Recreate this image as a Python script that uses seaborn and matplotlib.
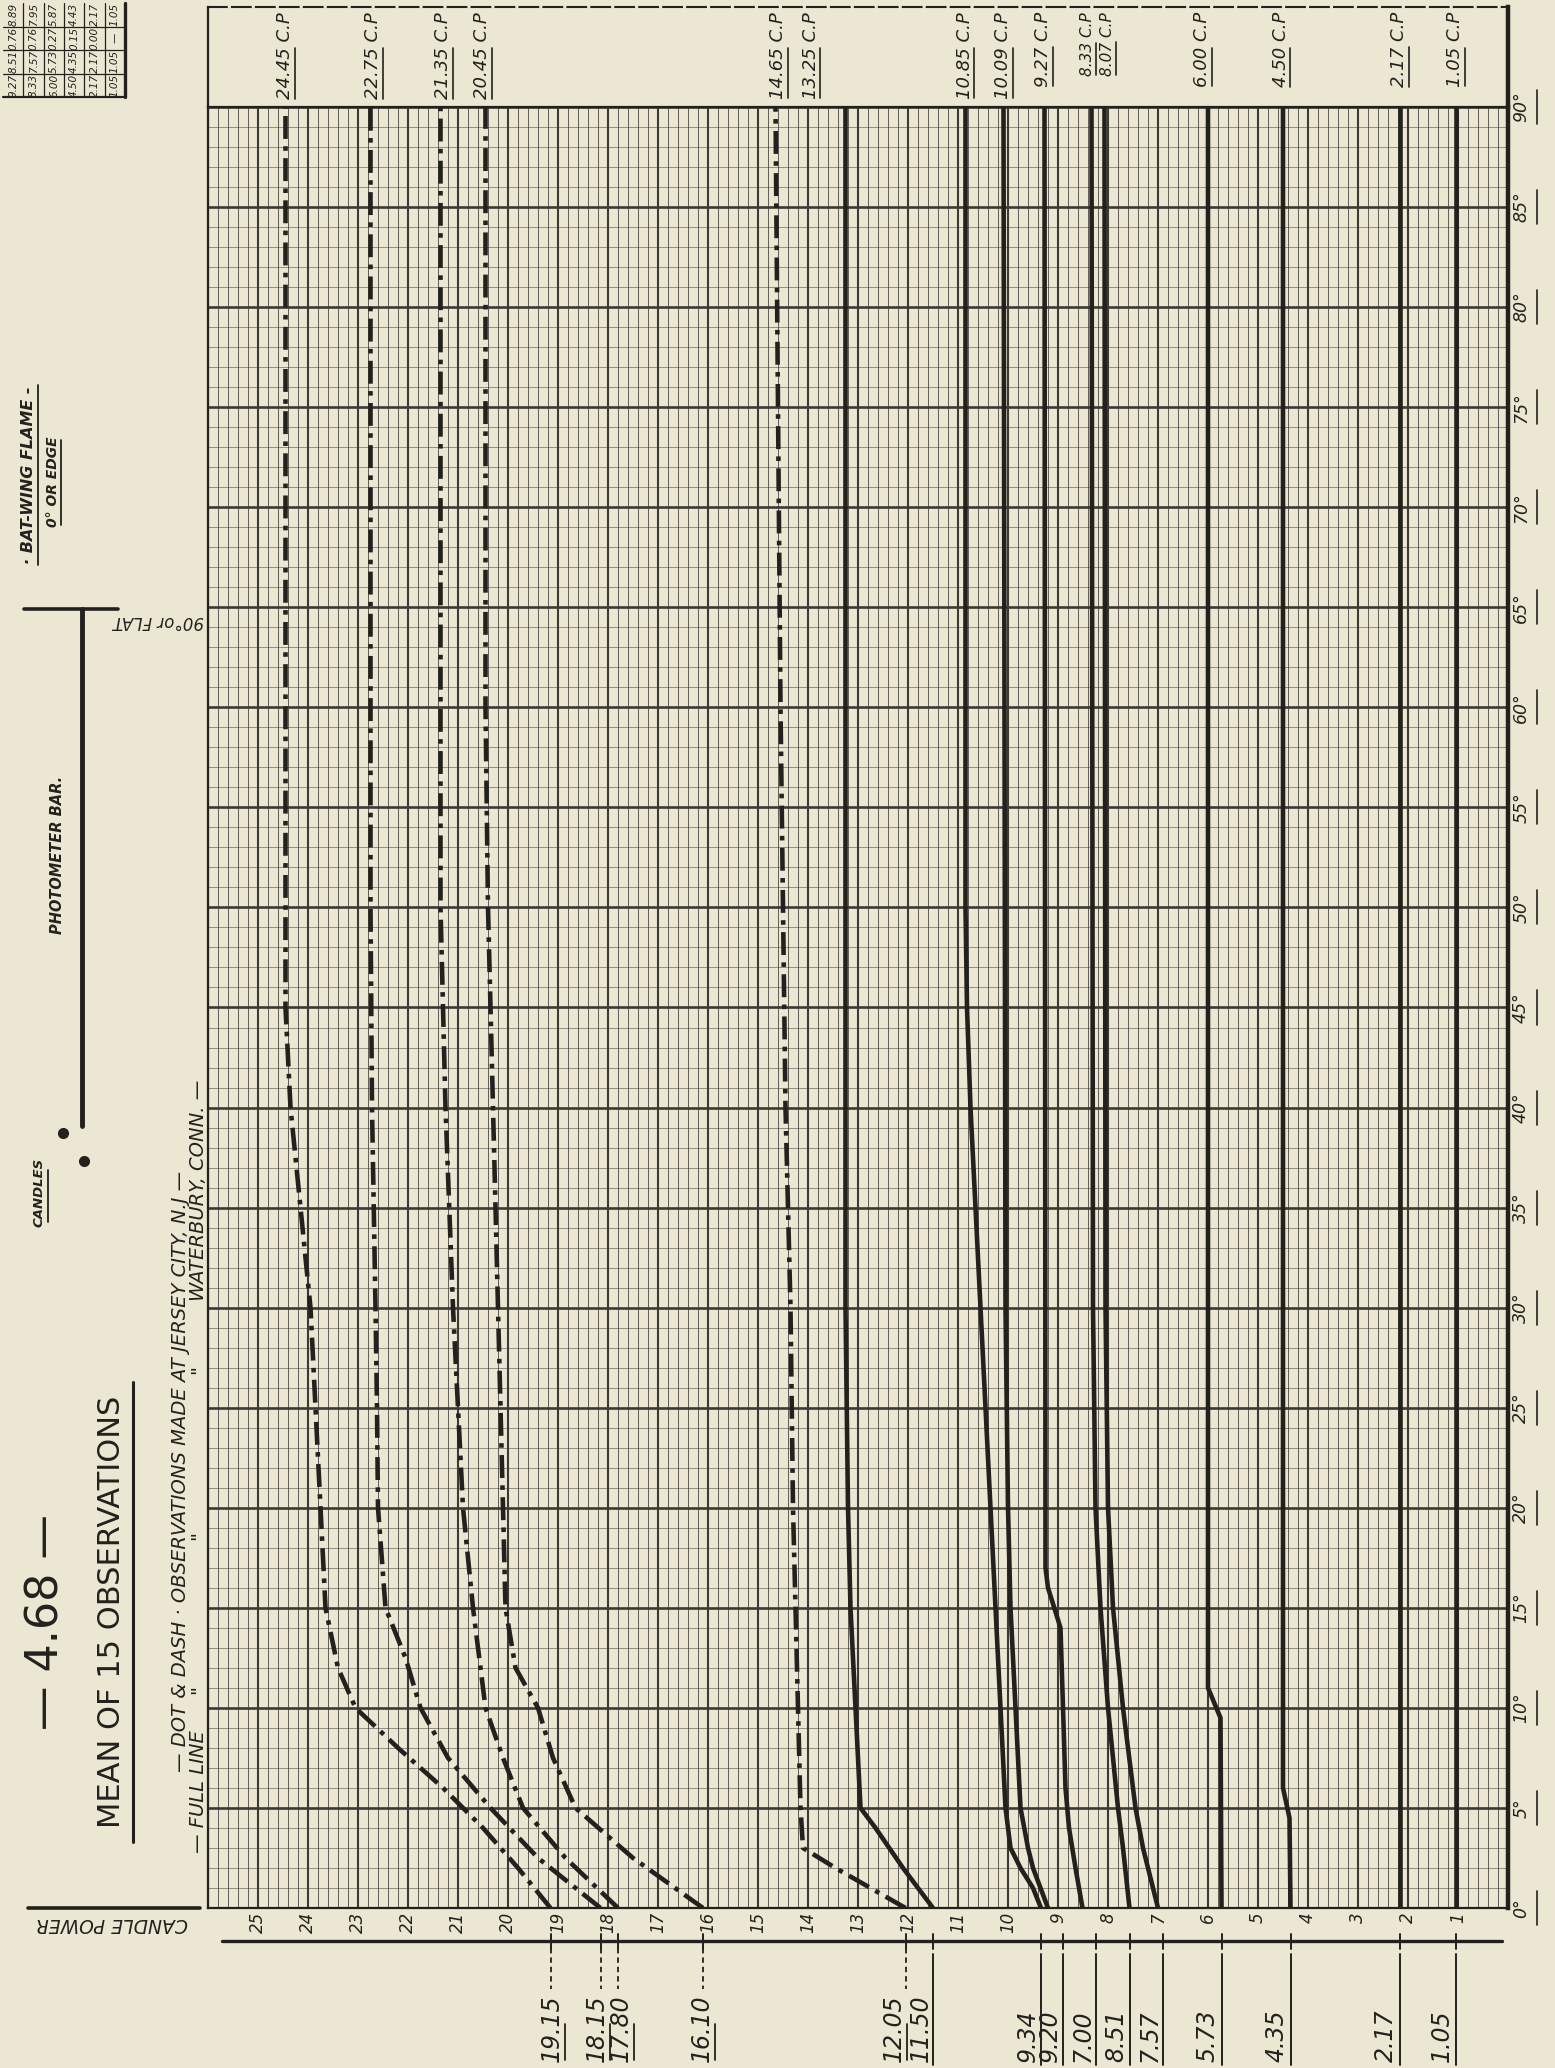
import numpy as np
import pandas as pd
import matplotlib
matplotlib.use("Agg")
import matplotlib.pyplot as plt
from matplotlib.lines import Line2D
from matplotlib.textpath import TextPath
from matplotlib.font_manager import FontProperties
import seaborn as sns

# ---------------------------------------------------------------------------
# Candle power of a bat-wing gas flame against the angle from its edge (deg).
# Jersey City observations are drawn dot & dash, Waterbury ones as full lines.
# ---------------------------------------------------------------------------
jc1_angle = [0, 2, 4, 6, 8, 10, 12, 15, 20, 25, 30, 35, 40, 45, 90]
jc1_cp = [19.15, 19.8, 20.5, 21.3, 22.2, 23.05, 23.4, 23.65, 23.75, 23.85, 23.95, 24.15, 24.35, 24.45, 24.45]
jc2_angle = [0, 2.5, 5, 7.5, 10, 12.5, 15, 20, 25, 30, 40, 50, 90]
jc2_cp = [18.15, 19.4, 20.35, 21.2, 21.75, 22.05, 22.45, 22.6, 22.62, 22.65, 22.72, 22.75, 22.75]
jc3_angle = [0, 2.5, 5, 7.5, 10, 15, 20, 30, 40, 50, 90]
jc3_cp = [17.80, 18.85, 19.7, 20.1, 20.45, 20.7, 20.9, 21.1, 21.25, 21.35, 21.35]
jc4_angle = [0, 2.5, 5, 7.5, 10, 12, 15, 20, 30, 40, 50, 60, 90]
jc4_cp = [16.10, 17.5, 18.65, 19.1, 19.4, 19.85, 20.05, 20.1, 20.2, 20.3, 20.4, 20.45, 20.45]
jc5_angle = [0, 1, 2, 3, 5, 10, 20, 30, 40, 60, 90]
jc5_cp = [12.05, 12.75, 13.45, 14.1, 14.15, 14.2, 14.3, 14.35, 14.45, 14.55, 14.65]

wb1_angle = [0, 2, 4, 5, 10, 15, 20, 30, 90]
wb1_cp = [11.50, 12.1, 12.65, 12.95, 13.05, 13.15, 13.2, 13.25, 13.25]
wb2_angle = [0, 1, 2, 3, 5, 10, 15, 20, 25, 30, 35, 40, 45, 50, 90]
wb2_cp = [9.34, 9.5, 9.75, 9.95, 10.05, 10.15, 10.25, 10.35, 10.45, 10.55, 10.65, 10.75, 10.82, 10.85, 10.85]
wb3_angle = [0, 1, 2, 3, 5, 10, 15, 20, 30, 90]
wb3_cp = [9.20, 9.35, 9.5, 9.6, 9.75, 9.85, 9.95, 10.0, 10.05, 10.09]
wb4_angle = [0, 2, 4, 6, 10, 14, 16, 17, 90]
wb4_cp = [8.51, 8.65, 8.78, 8.85, 8.9, 8.95, 9.2, 9.25, 9.27]
wb5_angle = [0, 3, 5, 10, 15, 20, 30, 90]
wb5_cp = [7.57, 7.7, 7.8, 8.0, 8.15, 8.25, 8.3, 8.33]
wb6_angle = [0, 3, 5, 10, 15, 20, 30, 90]
wb6_cp = [7.00, 7.3, 7.45, 7.7, 7.9, 8.0, 8.05, 8.07]
wb7_angle = [0, 9.5, 11, 90]
wb7_cp = [5.73, 5.75, 6.00, 6.00]
wb8_angle = [0, 4.5, 6, 90]
wb8_cp = [4.35, 4.37, 4.50, 4.50]
wb9_angle = [0, 90]
wb9_cp = [2.17, 2.17]
wb10_angle = [0, 90]
wb10_cp = [1.05, 1.05]

# summary table: 90 deg value, 0 deg value, difference, mean
tbl_max = ["9.27", "8.33", "6.00", "4.50", "2.17", "1.05"]
tbl_min = ["8.51", "7.57", "5.73", "4.35", "2.17", "1.05"]
tbl_diff = ["0.76", "0.76", "0.27", "0.15", "0.00", "—"]
tbl_mean = ["8.89", "7.95", "5.87", "4.43", "2.17", "1.05"]

cp_ticks = list(range(1, 26))
angle_ticks = list(range(0, 91, 5))

# where the end-value notes sit along the candle-power scale
top_note_at = [24.45, 22.70, 21.30, 20.52, 14.60, 13.95, 10.87, 10.10, 9.30, 8.40, 8.00, 6.12, 4.55, 2.18, 1.05]
bottom_lead_at = [19.15, 18.15, 17.80, 16.10, 12.05, 11.50, 9.34, 8.90, 7.57, 6.90, 8.25, 5.73, 4.35, 2.17, 1.05]
bottom_note_at = [19.12, 18.22, 17.74, 16.12, 12.28, 11.74, 9.60, 9.16, 7.83, 7.16, 8.51, 6.00, 4.62, 2.44, 1.32]

JC, WB = "Jersey City", "Waterbury"
curves = [
    ("jc1", JC, jc1_angle, jc1_cp), ("jc2", JC, jc2_angle, jc2_cp),
    ("jc3", JC, jc3_angle, jc3_cp), ("jc4", JC, jc4_angle, jc4_cp),
    ("jc5", JC, jc5_angle, jc5_cp),
    ("wb1", WB, wb1_angle, wb1_cp), ("wb2", WB, wb2_angle, wb2_cp),
    ("wb3", WB, wb3_angle, wb3_cp), ("wb4", WB, wb4_angle, wb4_cp),
    ("wb5", WB, wb5_angle, wb5_cp), ("wb6", WB, wb6_angle, wb6_cp),
    ("wb7", WB, wb7_angle, wb7_cp), ("wb8", WB, wb8_angle, wb8_cp),
    ("wb9", WB, wb9_angle, wb9_cp), ("wb10", WB, wb10_angle, wb10_cp),
]
rows = []
for name, site, angs, cps in curves:
    for a, c in zip(angs, cps):
        rows.append((name, site, a, c))
df = pd.DataFrame(rows, columns=["curve", "site", "angle", "cp"])

# ---------------------------------------------------------------------------
W, H = 1555, 2068
PAPER = "#ebe7d3"
INK = "#22211d"
GRID = "#3b3a35"

sns.set_theme(style="white", rc={"axes.facecolor": PAPER, "figure.facecolor": PAPER})
plt.rcParams["font.family"] = ["DejaVu Sans"]

fig = plt.figure(figsize=(W / 100, H / 100), dpi=100)
fig.patch.set_facecolor(PAPER)

GX0, GX1 = 208, 1508      # grid left / right (px)
GY0, GY1 = 107, 1908      # grid top (90 deg) / bottom (0 deg)
ax = fig.add_axes([GX0 / W, 1 - GY1 / H, (GX1 - GX0) / W, (GY1 - GY0) / H])

sns.lineplot(data=df, x="cp", y="angle", units="curve", style="site",
             estimator=None, sort=False,
             dashes={JC: (5, 1.6, 1.0, 1.6), WB: ""},
             color=INK, linewidth=3.3, legend=False, ax=ax)

ax.set_xlim(26, 0)
ax.set_ylim(0, 90)
ax.set_xlabel("")
ax.set_ylabel("")
ax.set_xticks(range(0, 27), labels=[str(v) if v in cp_ticks else "" for v in range(0, 27)],
              fontsize=12, fontstyle="italic", rotation=90, color=INK)
ax.set_xticks(np.round(np.arange(0, 26.001, 0.2), 2), minor=True)
ax.yaxis.tick_right()
ax.set_yticks(angle_ticks, labels=[f"{v}°" for v in angle_ticks], fontsize=12.5,
              fontstyle="italic", rotation=90, va="center", color=INK)
ax.set_yticks(range(0, 91), minor=True)
ax.tick_params(axis="both", which="both", length=0)
ax.tick_params(axis="x", pad=3)
ax.tick_params(axis="y", pad=3, labelright=True, labelleft=False)
ax.set_axisbelow(True)
ax.grid(True, which="major", axis="x", color=GRID, lw=1.5)
ax.grid(True, which="minor", axis="x", color=GRID, lw=0.65, alpha=0.85)
ax.grid(True, which="major", axis="y", color=GRID, lw=1.9)
ax.grid(True, which="minor", axis="y", color=GRID, lw=0.6, alpha=0.6)
for s in ax.spines.values():
    s.set_visible(True)
    s.set_color(INK)
    s.set_linewidth(1.6)
ax.spines["right"].set_linewidth(3.2)

ytr = ax.get_yaxis_transform()
for v in angle_ticks:
    ax.plot([1.0225, 1.0225], [v - 0.85, v + 0.85], transform=ytr, clip_on=False, color=INK, lw=1.2)


def text_len_px(s, size, style="italic"):
    fp = FontProperties(family="DejaVu Sans", style=style, size=size)
    return TextPath((0, 0), s, prop=fp).get_extents().width * 100 / 72


# --- notes of the 90 deg values above the grid -----------------------------
ax_top = fig.add_axes([GX0 / W, 1 - GY0 / H, (GX1 - GX0) / W, (GY0 - 7) / H], sharex=ax)
ax_top.set_ylim(0, 1)
ax_top.set_facecolor("none")
ax_top.grid(False)
ax_top.tick_params(which="both", bottom=False, left=False, labelbottom=False, labelleft=False)
for side in ["left", "right"]:
    ax_top.spines[side].set_visible(True)
    ax_top.spines[side].set_color(INK)
    ax_top.spines[side].set_linewidth(1.6)
ax_top.spines["right"].set_linewidth(3.2)
ax_top.spines["top"].set_visible(True)
ax_top.spines["top"].set_color(INK)
ax_top.spines["top"].set_linewidth(1.5)
ax_top.spines["top"].set_linestyle((0, (9, 2.5)))
ax_top.spines["bottom"].set_visible(False)

for (name, site, angs, cps), xl in zip(curves, top_note_at):
    num = f"{cps[-1]:.2f}"
    s = f"{num} C.P"
    fs = 11 if name in ("wb5", "wb6") else 13
    ax_top.text(xl, 0.95, s, rotation=90, ha="center", va="top", fontsize=fs,
                fontstyle="italic", color=INK)
    y0 = 0.95 - text_len_px(s, fs) / 100
    ax_top.plot([xl - 0.19 * fs / 13] * 2, [y0, y0 + text_len_px(num, fs) / 100], color=INK, lw=1.2)

# --- notes of the 0 deg values below the grid ------------------------------
ax_bot = fig.add_axes([GX0 / W, 0, (GX1 - GX0) / W, (H - GY1) / H], sharex=ax)
ax_bot.set_ylim(H - GY1, 0)
ax_bot.set_facecolor("none")
ax_bot.grid(False)
ax_bot.tick_params(which="both", bottom=False, left=False, labelbottom=False, labelleft=False)
for s in ax_bot.spines.values():
    s.set_visible(False)
ax_bot.axhline(33, xmin=(222 - GX0) / (GX1 - GX0), xmax=(1502 - GX0) / (GX1 - GX0), color=INK, lw=2.4)

BFS = 17
for (name, site, angs, cps), lx, tx in zip(curves, bottom_lead_at, bottom_note_at):
    s = f"{cps[0]:.2f}"
    L = text_len_px(s, BFS)
    ax_bot.plot([lx, lx], [26, 41], color=INK, lw=1.4)
    if site == JC:
        ax_bot.plot([lx, lx], [40, 152 - L - 6], color=INK, lw=1.3, ls=(0, (3, 2.2)))
        ax_bot.plot([tx - 0.25, tx - 0.25], [152 - L * 0.55, 152], color=INK, lw=1.3)
    else:
        ax_bot.plot([lx, lx], [46, 157], color=INK, lw=1.4)
    ax_bot.text(tx, 154, s, rotation=90, ha="center", va="bottom", fontsize=BFS,
                fontstyle="italic", color=INK)

# --- summary table in the upper corner -------------------------------------
ax_t = fig.add_axes([0.002, 1 - 97 / H, 122 / W, 94 / H])
ax_t.set_xlim(0, 6)
ax_t.set_ylim(0, 4)
ax_t.axis("off")
for i in range(1, 6):
    ax_t.axvline(i, color=INK, lw=0.9)
ax_t.axvline(6, color=INK, lw=2.4, clip_on=False)
for j in range(1, 4):
    ax_t.axhline(j, color=INK, lw=0.9)
ax_t.axhline(0, color=INK, lw=1.6, clip_on=False)
for i, cells in enumerate(zip(tbl_max, tbl_min, tbl_diff, tbl_mean)):
    for j, cell in enumerate(cells):
        ax_t.text(i + 0.5, j + 0.5, cell, rotation=90, ha="center", va="center",
                  fontsize=7.5, fontstyle="italic", color=INK)


# --- lettering in the left margin ------------------------------------------
def ftext(x, y, s, **kw):
    kw.setdefault("color", INK)
    kw.setdefault("ha", "center")
    kw.setdefault("va", "center")
    fig.text(x / W, 1 - y / H, s, **kw)


def fline(xs, ys, lw=1.5, **kw):
    fig.add_artist(Line2D([x / W for x in xs], [1 - y / H for y in ys],
                          transform=fig.transFigure, color=INK, lw=lw, **kw))


ftext(29, 475, "· BAT-WING FLAME -", rotation=90, fontsize=11.5, fontstyle="italic", weight="bold")
fline([38, 38], [385, 565], lw=1.3)
ftext(53, 482, "0° OR EDGE", rotation=90, fontsize=10, fontstyle="italic", weight="bold")
fline([61, 61], [440, 525], lw=1.3)

fline([24, 118], [609, 609], lw=2.6)
fline([82, 82], [609, 1126], lw=3.5)
ftext(158, 621, "90°or FLAT", rotation=180, fontsize=12, fontstyle="italic")
ftext(57, 855, "PHOTOMETER BAR.", rotation=90, fontsize=10.5, fontstyle="italic", weight="bold")

ftext(39, 1192, "CANDLES", rotation=90, fontsize=9.5, fontstyle="italic", weight="bold")
fline([48, 48], [1170, 1222], lw=1.3)
fig.add_artist(Line2D([63 / W], [1 - 1133 / H], transform=fig.transFigure, marker="o",
                      ms=7, color=INK, lw=0))
fig.add_artist(Line2D([84 / W], [1 - 1161 / H], transform=fig.transFigure, marker="o",
                      ms=7, color=INK, lw=0))

ftext(46, 1622, "— 4.68 —", rotation=90, fontsize=32)
ftext(111, 1612, "MEAN OF 15 OBSERVATIONS", rotation=90, fontsize=22)
fline([133, 133], [1382, 1842], lw=2.2)

ftext(181, 1471, "— DOT & DASH · OBSERVATIONS MADE AT JERSEY CITY, N.J —",
      rotation=90, fontsize=14, fontstyle="italic")
ftext(199, 1792, "— FULL LINE", rotation=90, fontsize=14, fontstyle="italic")
for yq in (1690, 1535, 1370):
    ftext(199, yq, "\"", rotation=90, fontsize=14, fontstyle="italic")
ftext(199, 1190, "WATERBURY, CONN. —", rotation=90, fontsize=14, fontstyle="italic")

ftext(112, 1924, "CANDLE POWER", rotation=180, fontsize=13.5, fontstyle="italic")
fline([28, 200], [1908, 1908], lw=2.6)

fig.savefig("out.png", dpi=100, facecolor=PAPER)
